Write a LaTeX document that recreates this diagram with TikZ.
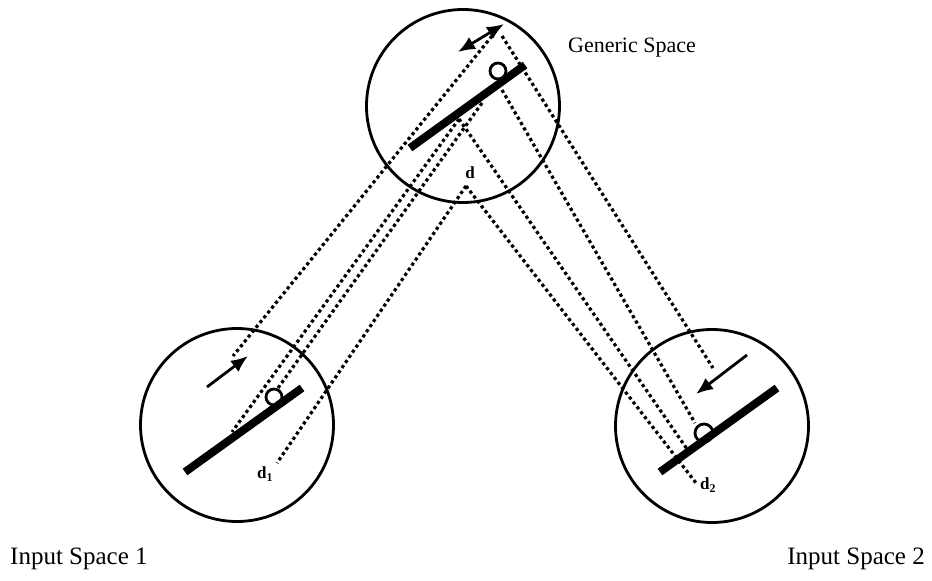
\documentclass[tikz,border=0pt]{standalone}
\usepackage{fontspec}
\setmainfont{Liberation Serif}
\usetikzlibrary{arrows.meta}
\tikzset{
  space/.style={circle,draw,line width=2.8pt,minimum size=193pt,inner sep=0pt},
  bar/.style={line width=8pt},
  ball/.style={line width=2.8pt},
  proj/.style={line width=3.2pt,dash pattern=on 3.2pt off 3pt},
  move/.style={line width=2.8pt},
  lbl/.style={font=\fontsize{22}{26}\selectfont,inner sep=0pt},
  inlbl/.style={font=\fontsize{25}{29}\selectfont,inner sep=0pt},
  dlbl/.style={font=\fontsize{17}{20}\selectfont\bfseries,inner sep=0pt}
}
\begin{document}
\begin{tikzpicture}[x=1pt,y=-1pt,>={Latex[length=17pt,width=14pt]}]
  \useasboundingbox (0,0) rectangle (932,581);
  % the three spaces
  \node[space] (gen) at (463,106) {};
  \node[space] (in1) at (237,425) {};
  \node[space] (in2) at (712,426) {};
  \node[lbl,anchor=base west] (gentext) at (568,52) {Generic Space};
  \node[inlbl,anchor=base west] (in1text) at (10,564) {Input Space 1};
  \node[inlbl,anchor=base east] (in2text) at (925,564) {Input Space 2};
  % balls, then the planes over them
  \draw[ball] (498,71) circle (8);
  \draw[ball] (274,397) circle (8);
  \draw[ball] (704,433) circle (9);
  \draw[bar] (410,148) -- (525,65);
  \draw[bar] (185,472) -- (302,388);
  \draw[bar] (660,472) -- (777,388);
  % motion
  \draw[move,<->] (458,52) -- (504,24);
  \draw[move,->] (207,387) -- (248,356);
  \draw[move,->] (747,355) -- (696,394);
  % distances
  \node[dlbl] (d) at (470,173) {d};
  \node[dlbl] (d1) at (265,474) {d\textsubscript{1}};
  \node[dlbl] (d2) at (708,485) {d\textsubscript{2}};
  % points of the generic space
  \coordinate (garrow1) at (492,36);
  \coordinate (garrow2) at (502,36);
  \coordinate (gball1) at (482,103);
  \coordinate (gball2) at (502,90);
  \coordinate (gbar) at (459,119);
  \coordinate (gd) at (466,186);
  % points of input space 1
  \coordinate (arrow1) at (233,356);
  \coordinate (ball1) at (278,388);
  \coordinate (bar1) at (232,432);
  \coordinate (dd1) at (277,463);
  % points of input space 2
  \coordinate (arrow2) at (713,368);
  \coordinate (ball2) at (695,423);
  \coordinate (bar2) at (687,449);
  \coordinate (dd2) at (696,483);
  % projections
  \draw[proj] (garrow1) -- (arrow1);
  \draw[proj] (gball1) -- (ball1);
  \draw[proj] (gbar) -- (bar1);
  \draw[proj] (gd) -- (dd1);
  \draw[proj] (garrow2) -- (arrow2);
  \draw[proj] (gball2) -- (ball2);
  \draw[proj] (gbar) -- (bar2);
  \draw[proj] (gd) -- (dd2);
\end{tikzpicture}
\end{document}
